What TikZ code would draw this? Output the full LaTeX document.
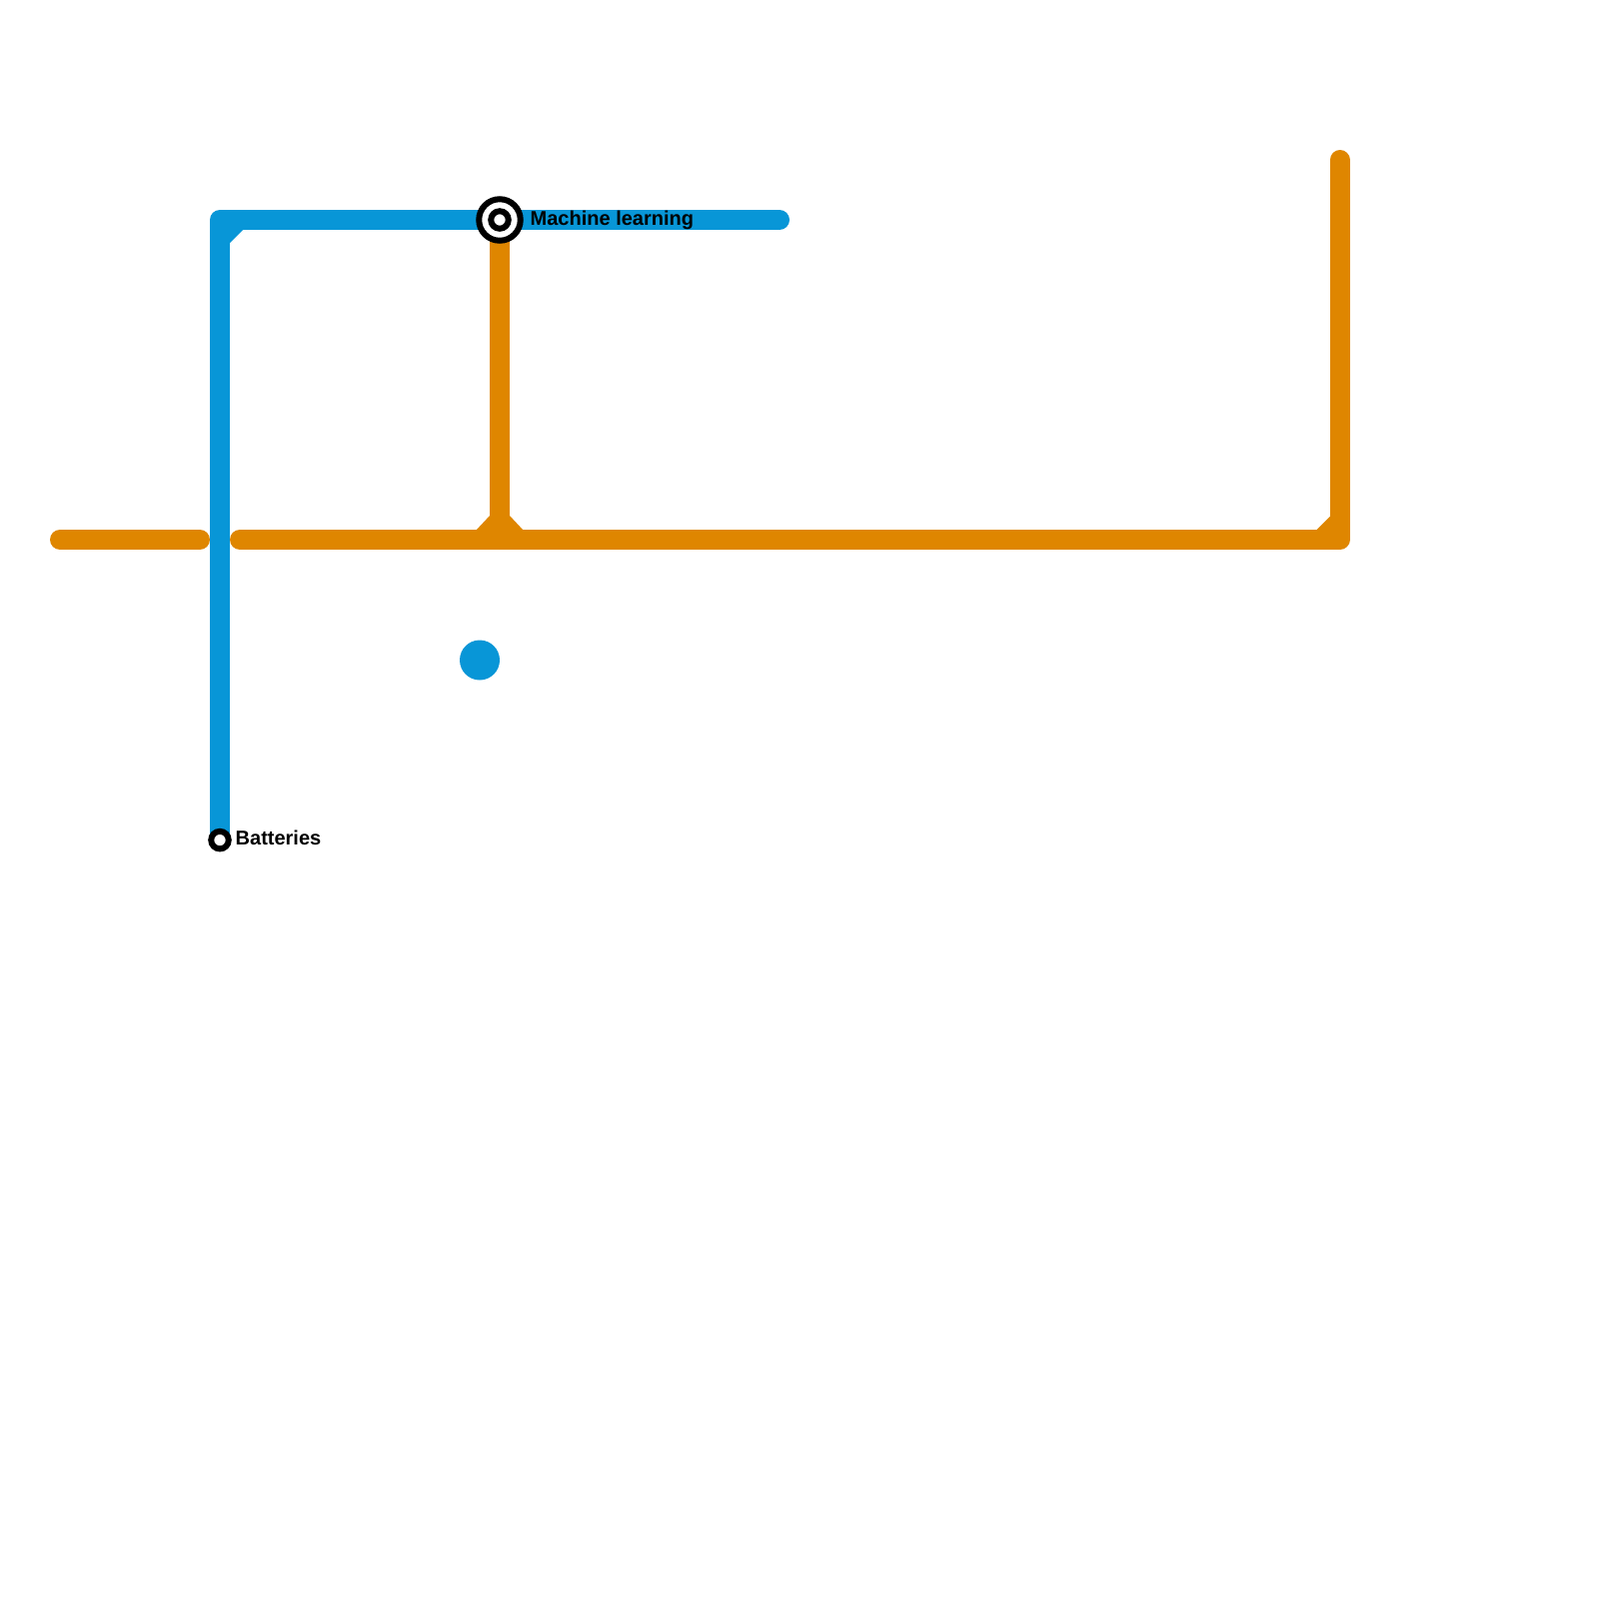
\documentclass[tikz,border=0pt]{standalone}
\usepackage{fontspec}
\setmainfont{Liberation Sans}
\usepackage{xcolor}
\definecolor{lineblue}{HTML}{0896D7}
\definecolor{lineorange}{HTML}{DF8600}

\begin{document}
\begin{tikzpicture}[
  x=0.1mm, y=-0.1mm,
  font=\fontsize{5.69pt}{6.8pt}\selectfont\bfseries,
  blueline/.style={draw=lineblue, line width=2mm, line cap=round, line join=round},
  orangeline/.style={draw=lineorange, line width=2mm, line cap=round, line join=round},
  bluefillet/.style={fill=lineblue},
  orangefillet/.style={fill=lineorange},
  stationouter/.style={circle, draw=black, line width=0.6mm, fill=white, inner sep=0pt, minimum size=4.15mm},
  stationinner/.style={circle, draw=black, line width=0.6mm, fill=white, inner sep=0pt, minimum size=1.75mm},
  stationend/.style={stationinner},
  lbl/.style={inner sep=0pt, anchor=base west}
]
\useasboundingbox[fill=white] (0,0) rectangle (1600,1600);
% orange line
\coordinate (westa) at (60,540);
\coordinate (westb) at (200,540);
\coordinate (main) at (240,540);
\coordinate (fork) at (500,540);
\coordinate (bend) at (1340.6,540);
\coordinate (north) at (1340.6,160);
\coordinate (mlpos) at (500,220);
\draw[orangeline] (westa) -- (westb);
\draw[orangeline] (main) -- (bend) -- (north);
\draw[orangeline] (fork) -- (mlpos);
\fill[orangefillet] (476,531) -- (490,516) -- (510,516) -- (524,531) -- cycle;
\fill[orangefillet] (1316.6,531) -- (1331.6,516) -- (1331.6,531) -- cycle;
% blue line
\coordinate (corner) at (220,220);
\coordinate (bat) at (220,840.6);
\coordinate (eastend) at (780,220);
\draw[blueline] (bat) -- (corner) -- (eastend);
\fill[bluefillet] (229,244) -- (244,229) -- (229,229) -- cycle;
\node[circle, fill=lineblue, inner sep=0pt, minimum size=4mm] (dot) at (480,660.5) {};
% stations
\node[stationouter] (mlouter) at (mlpos) {};
\node[stationinner] (mlinner) at (mlpos) {};
\node[stationend] (batteries) at (bat) {};
\node[lbl] (mllabel) at (530,225) {Machine learning};
\node[lbl] (batlabel) at (235,845) {Batteries};
\end{tikzpicture}
\end{document}
